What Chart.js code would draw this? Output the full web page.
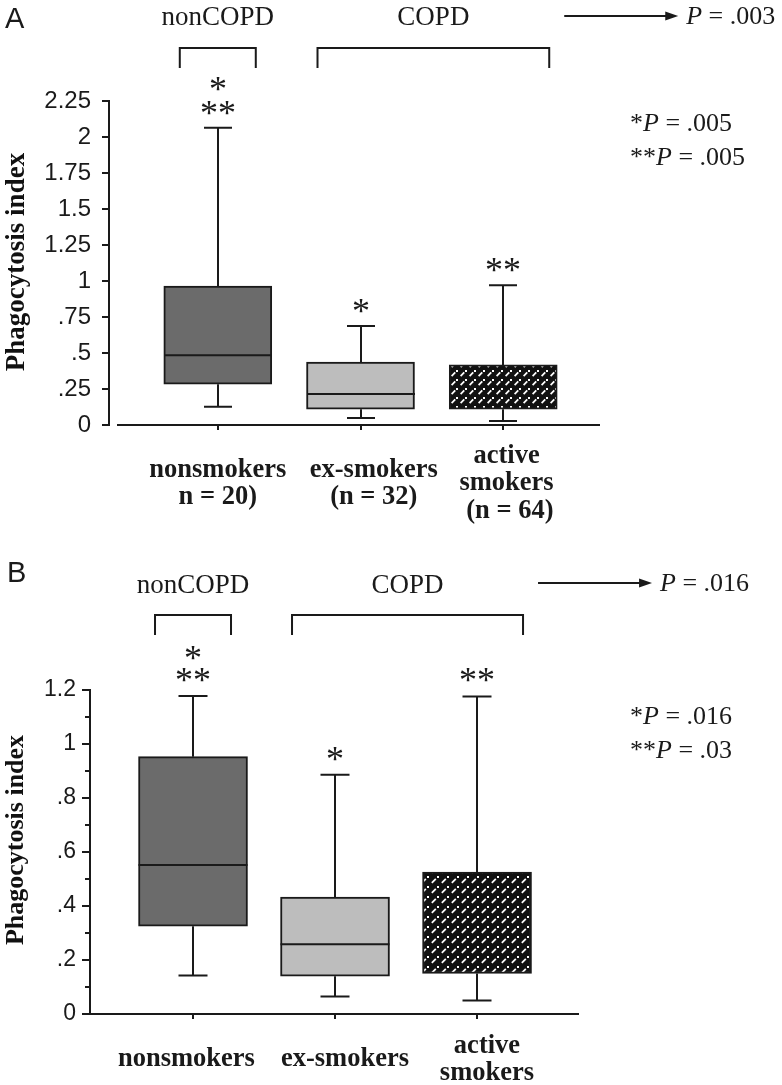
<!DOCTYPE html>
<html>
<head>
<meta charset="utf-8">
<script src="https://cdn.jsdelivr.net/npm/chart.js@4/dist/chart.umd.min.js"></script>
<style>
html,body{margin:0;padding:0;background:#fff;width:782px;height:1085px;overflow:hidden}
.wrap{position:absolute;left:0;width:782px}
#wa{top:0;height:545px}
#wb{top:545px;height:540px}
canvas{display:block}
</style>
</head>
<body>
<div class="wrap" id="wa"><canvas id="ca" width="782" height="545" style="width:782px;height:545px"></canvas></div>
<div class="wrap" id="wb"><canvas id="cb" width="782" height="540" style="width:782px;height:540px"></canvas></div>
<script>
// ---------- DATA ----------
const categoryPos = [1, 2, 3];
const categoriesA = [["nonsmokers", "n = 20)"], ["    ex-smokers", "    (n = 32)"], [" active", " smokers", "  (n = 64)"]];
const categoriesB = ["nonsmokers  ", "   ex-smokers", ["   active", "   smokers"]];
const groupNames = ["nonCOPD", "COPD"];

// Panel A
const minA = [0.127, 0.048, 0.028];
const q1A  = [0.283, 0.110, 0.110];
const medA = [0.484, 0.215, null];
const q3A  = [0.965, 0.437, 0.417];
const maxA = [2.065, 0.688, 0.970];
const starsA = [["*", "**"], ["*"], ["**"]];
const yTicksA = ["0", ".25", ".5", ".75", "1", "1.25", "1.5", "1.75", "2", "2.25"];
const groupPA = ".003";
const pairPA = [["*", ".005"], ["**", ".005"]];

// Panel B
const minB = [0.143, 0.065, 0.050];
const q1B  = [0.325, 0.140, 0.150];
const medB = [0.552, 0.258, null];
const q3B  = [0.953, 0.433, 0.526];
const maxB = [1.178, 0.886, 1.176];
const starsB = [["*", "**"], ["*"], ["**"]];
const yTicksB = ["0", "", ".2", "", ".4", "", ".6", "", ".8", "", "1", "", "1.2"];
const groupPB = ".016";
const pairPB = [["*", ".016"], ["**", ".03"]];

const yTitle = "Phagocytosis index";

// ---------- STYLE ----------
const INK = "#1a1a1a";
const FILLS = ["#6b6b6b", "#bdbdbd", null];
const SERIF = '"Liberation Serif", "Times New Roman", serif';
const SANS = '"Liberation Sans", Arial, sans-serif';

function makePattern(ctx, size) {
  const c = document.createElement("canvas");
  c.width = size; c.height = size;
  const g = c.getContext("2d");
  g.fillStyle = "#111"; g.fillRect(0, 0, size, size);
  g.strokeStyle = "#fff"; g.lineWidth = 1.8; g.lineCap = "butt";
  g.beginPath();
  g.moveTo(size * 0.18, size * 0.78);
  g.lineTo(size * 0.58, size * 0.38);
  g.stroke();
  g.fillStyle = "#fff";
  g.fillRect(Math.round(size * 0.66), Math.round(size * 0.14), 2, 2);
  return ctx.createPattern(c, "repeat");
}

function drawPExpr(ctx, x, yb, prefix, val, size) {
  let cx = x;
  ctx.fillStyle = INK; ctx.textBaseline = "alphabetic"; ctx.textAlign = "left";
  if (prefix) {
    ctx.font = `${size}px ${SERIF}`;
    ctx.fillText(prefix, cx, yb);
    cx += ctx.measureText(prefix).width;
  }
  ctx.font = `italic ${size}px ${SERIF}`;
  ctx.fillText("P", cx, yb);
  cx += ctx.measureText("P").width;
  ctx.font = `${size}px ${SERIF}`;
  ctx.fillText(" = " + val, cx, yb);
}

function makePlugin(P, d) {
  return {
    id: "boxplot" + P.letter,
    beforeDatasetsDraw(chart) {
      const { ctx, scales: { x, y } } = chart;
      ctx.save();
      ctx.strokeStyle = INK; ctx.lineWidth = 2;
      categoryPos.forEach((c, i) => {
        const px = Math.round(x.getPixelForValue(c));
        ctx.beginPath();
        ctx.moveTo(px, y.getPixelForValue(d.q3[i])); ctx.lineTo(px, y.getPixelForValue(d.max[i]));
        ctx.moveTo(px, y.getPixelForValue(d.q1[i])); ctx.lineTo(px, y.getPixelForValue(d.min[i]));
        ctx.stroke();
      });
      ctx.restore();
    },
    afterDatasetsDraw(chart) {
      const { ctx, scales: { x, y } } = chart;
      ctx.save();
      ctx.strokeStyle = INK; ctx.lineWidth = 2;
      categoryPos.forEach((c, i) => {
        const px = Math.round(x.getPixelForValue(c));
        ctx.beginPath();
        for (const v of [d.max[i], d.min[i]]) {
          const py = y.getPixelForValue(v);
          ctx.moveTo(px - P.capW / 2, py); ctx.lineTo(px + P.capW / 2, py);
        }
        if (d.med[i] != null) {
          const pm = y.getPixelForValue(d.med[i]);
          ctx.moveTo(px - P.boxW / 2, pm); ctx.lineTo(px + P.boxW / 2, pm);
        }
        ctx.stroke();
        // significance stars
        ctx.fillStyle = INK; ctx.textAlign = "center"; ctx.textBaseline = "alphabetic";
        ctx.font = `${P.starFont}px ${SERIF}`;
        const top = y.getPixelForValue(d.max[i]);
        const lines = d.stars[i];
        for (let k = 0; k < lines.length; k++) {
          const fromBottom = lines.length - 1 - k;
          const cy = top - P.starOff - fromBottom * P.starLine;
          ctx.fillText(lines[k], px, cy + P.starFont * 0.47);
        }
      });
      ctx.restore();
    },
    afterDraw(chart) {
      const { ctx, chartArea, scales: { x, y } } = chart;
      ctx.save();
      ctx.strokeStyle = INK; ctx.fillStyle = INK; ctx.lineWidth = 2;
      // x axis line (panel A has a small gap from the y axis)
      if (P.xGap != null) {
        ctx.beginPath();
        ctx.moveTo(chartArea.left + P.xGap, chartArea.bottom);
        ctx.lineTo(chartArea.right, chartArea.bottom);
        ctx.stroke();
      }
      // minor y ticks
      if (P.minorLen) {
        ctx.beginPath();
        y.ticks.forEach((t, i) => {
          if (i % 2 === 1) {
            const py = Math.round(y.getPixelForValue(t.value));
            ctx.moveTo(chartArea.left - P.minorLen, py); ctx.lineTo(chartArea.left, py);
          }
        });
        ctx.stroke();
      }
      // y axis title
      ctx.save();
      ctx.translate(P.titleX, P.titleY);
      ctx.rotate(-Math.PI / 2);
      ctx.font = `bold ${P.titleFont}px ${SERIF}`;
      ctx.textAlign = "center"; ctx.textBaseline = "middle"; ctx.fillStyle = "#111";
      ctx.fillText(yTitle, 0, 0);
      ctx.restore();
      // brackets
      const p1 = x.getPixelForValue(categoryPos[0]);
      const p2 = x.getPixelForValue(categoryPos[1]);
      const p3 = x.getPixelForValue(categoryPos[2]);
      const br = [[p1 - 38, p1 + 38], [p2 - 43, p3 + 46]];
      ctx.beginPath();
      br.forEach(([a, b]) => {
        ctx.moveTo(a, P.brBot); ctx.lineTo(a, P.brTop); ctx.lineTo(b, P.brTop); ctx.lineTo(b, P.brBot);
      });
      ctx.stroke();
      // group labels
      ctx.font = `${P.grpFont}px ${SERIF}`; ctx.textAlign = "center"; ctx.textBaseline = "alphabetic";
      br.forEach(([a, b], i) => ctx.fillText(groupNames[i], (a + b) / 2, P.grpBase));
      // arrow + overall P
      const ax1 = br[1][1] + 15, ax2 = br[1][1] + 129;
      ctx.lineWidth = 2;
      ctx.beginPath(); ctx.moveTo(ax1, P.arrowY); ctx.lineTo(ax2 - 10, P.arrowY); ctx.stroke();
      ctx.beginPath(); ctx.moveTo(ax2, P.arrowY); ctx.lineTo(ax2 - 13, P.arrowY - 4.5); ctx.lineTo(ax2 - 13, P.arrowY + 4.5); ctx.closePath(); ctx.fill();
      drawPExpr(ctx, ax2 + 8, P.pBase, "", d.groupP, P.pFont);
      // pairwise P values
      d.pairP.forEach((pp, i) => drawPExpr(ctx, P.pairX, P.pairBase[i], pp[0], pp[1], P.pFont));
      // panel letter
      ctx.fillStyle = INK; ctx.font = `${P.letterFont}px ${SANS}`; ctx.textAlign = "left";
      ctx.fillText(P.letter, P.letterX, P.letterBase);
      ctx.restore();
    }
  };
}

function makeChart(canvasId, P, d) {
  const canvas = document.getElementById(canvasId);
  const ctx = canvas.getContext("2d");
  const pattern = makePattern(ctx, P.patSize);
  const fills = FILLS.map(f => f || pattern);
  return new Chart(ctx, {
    type: "bar",
    data: {
      datasets: [{
        data: categoryPos.map((c, i) => ({ x: c, y: [d.q1[i], d.q3[i]] })),
        backgroundColor: fills,
        borderColor: INK,
        borderWidth: 2,
        borderSkipped: false,
        barThickness: P.boxW
      }]
    },
    options: {
      responsive: false,
      devicePixelRatio: 1,
      animation: false,
      events: [],
      layout: { padding: { left: 0, top: P.top, right: P.padRight, bottom: 0 } },
      plugins: { legend: { display: false }, tooltip: { enabled: false }, title: { display: false } },
      scales: {
        x: {
          type: "linear",
          min: P.xMin, max: P.xMax,
          offset: false,
          grid: { display: true, drawOnChartArea: false, offset: false, tickLength: 5, color: INK, tickColor: INK, tickWidth: 2, lineWidth: 2 },
          border: { display: P.xGap == null, color: INK, width: 2 },
          ticks: {
            stepSize: 1, includeBounds: false, autoSkip: false, maxRotation: 0, minRotation: 0,
            crossAlign: "center", padding: P.xPad, color: INK,
            font: { family: SERIF, size: P.xFont, weight: "bold", lineHeight: P.xLH + "px" },
            callback: (v) => { const i = categoryPos.indexOf(v); return i >= 0 ? d.cats[i] : ""; }
          },
          afterFit: (s) => { s.height = P.xH; }
        },
        y: {
          min: 0, max: P.yMax,
          grid: {
            display: true, drawOnChartArea: false, tickLength: P.yTickLen, lineWidth: 2, tickWidth: 2, color: INK,
            tickColor: (c) => (P.minorLen && c.index % 2 === 1) ? "rgba(0,0,0,0)" : INK
          },
          border: { display: true, color: INK, width: 2 },
          ticks: {
            stepSize: P.step, autoSkip: false, padding: P.yPad, color: INK,
            font: { family: SANS, size: P.yFont },
            callback: (v, i) => d.yTicks[i]
          },
          title: { display: false },
          afterFit: (s) => { s.width = P.left; }
        }
      }
    },
    plugins: [makePlugin(P, d)]
  });
}

const PA = {
  letter: "A", letterX: 5, letterBase: 28, letterFont: 29,
  top: 101, left: 109, padRight: 182, xH: 120,
  xMin: 0.2378, xMax: 3.678, xGap: 8, xPad: 26, xLH: 27.5, xFont: 26.5,
  yMax: 2.25, step: 0.25, yFont: 24, yPad: 11, yTickLen: 7, minorLen: 0,
  titleX: 17, titleY: 262, titleFont: 27,
  boxW: 108, capW: 28, patSize: 9,
  starFont: 36, starOff: 20, starLine: 24,
  brTop: 48, brBot: 68, grpBase: 25, grpFont: 27,
  arrowY: 16, pBase: 24, pFont: 26, pairX: 630, pairBase: [131, 165]
};
const PB = {
  letter: "B", letterX: 7, letterBase: 37, letterFont: 29,
  top: 145, left: 90, padRight: 204, xH: 71,
  xMin: 0.2746, xMax: 3.711, xGap: null, xPad: 27, xLH: 27, xFont: 26.5,
  yMax: 1.2, step: 0.1, yFont: 23, yPad: 6, yTickLen: 8, minorLen: 5,
  titleX: 16, titleY: 295, titleFont: 26,
  boxW: 109, capW: 29, patSize: 10,
  starFont: 36, starOff: 21, starLine: 22,
  brTop: 70, brBot: 90, grpBase: 48, grpFont: 27,
  arrowY: 38, pBase: 46, pFont: 26, pairX: 630, pairBase: [179, 213]
};

makeChart("ca", PA, { min: minA, q1: q1A, med: medA, q3: q3A, max: maxA, stars: starsA, yTicks: yTicksA, cats: categoriesA, groupP: groupPA, pairP: pairPA });
makeChart("cb", PB, { min: minB, q1: q1B, med: medB, q3: q3B, max: maxB, stars: starsB, yTicks: yTicksB, cats: categoriesB, groupP: groupPB, pairP: pairPB });
</script>
</body>
</html>
